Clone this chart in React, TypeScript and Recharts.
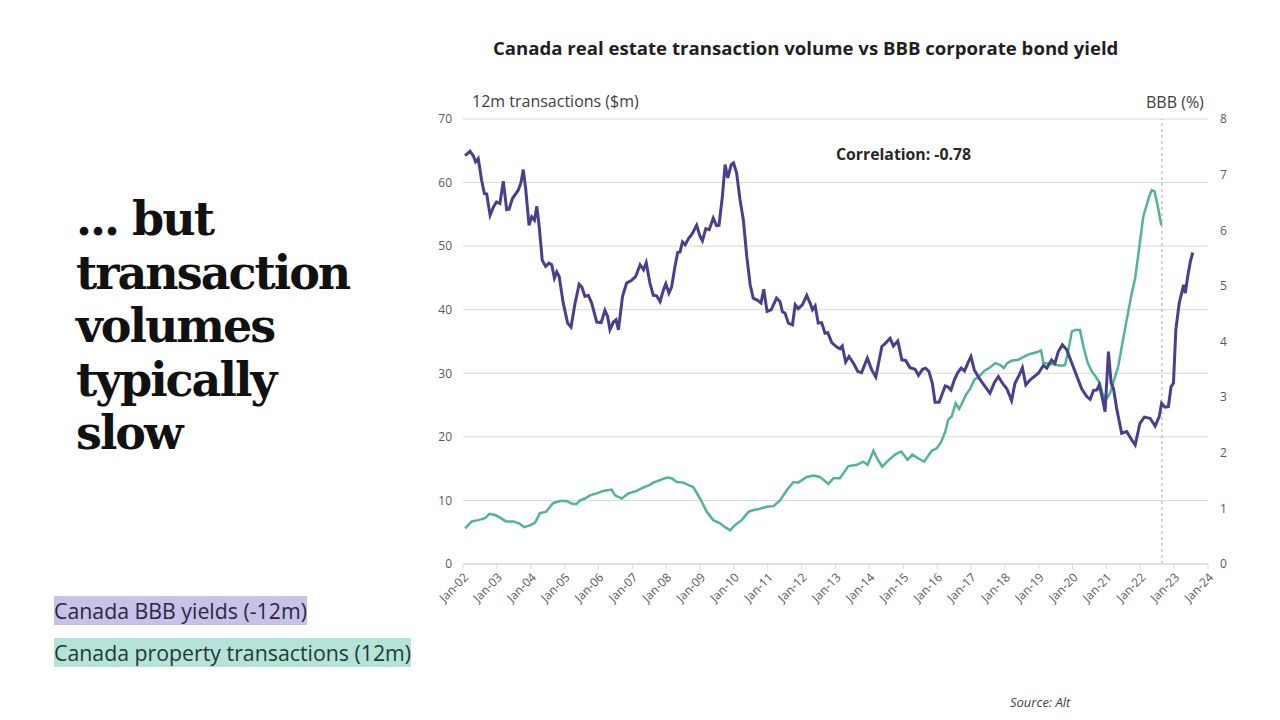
import React from 'react';
import { LineChart, Line, XAxis, YAxis, CartesianGrid, ReferenceLine } from 'recharts';

// Canada BBB corporate bond yield, shifted forward 12 months (%), right axis
const bbbDates = [
  2002.06, 2002.21, 2002.31, 2002.37, 2002.45, 2002.55, 2002.63, 2002.70, 2002.80, 2002.90,
  2002.99, 2003.09, 2003.19, 2003.29, 2003.36, 2003.46, 2003.63, 2003.71, 2003.78, 2003.85,
  2003.95, 2004.03, 2004.11, 2004.18, 2004.25, 2004.34, 2004.44, 2004.54, 2004.62, 2004.70,
  2004.77, 2004.84, 2004.96, 2005.09, 2005.19, 2005.31, 2005.43, 2005.51, 2005.60, 2005.70,
  2005.80, 2005.95, 2006.08, 2006.19, 2006.27, 2006.34, 2006.44, 2006.52, 2006.59, 2006.71,
  2006.83, 2006.98, 2007.10, 2007.23, 2007.33, 2007.41,
  2007.52, 2007.62, 2007.72, 2007.82, 2007.92, 2007.99, 2008.08, 2008.16, 2008.26, 2008.34,
  2008.41, 2008.48, 2008.56, 2008.66, 2008.77, 2008.90, 2009.00, 2009.07, 2009.17, 2009.27,
  2009.39, 2009.49, 2009.56, 2009.66, 2009.74, 2009.82, 2009.92, 2009.99, 2010.08, 2010.18,
  2010.28, 2010.38, 2010.48, 2010.57, 2010.70, 2010.80, 2010.88, 2010.98, 2011.10, 2011.26,
  2011.36, 2011.43, 2011.51, 2011.61, 2011.73, 2011.81, 2011.90, 2012.02, 2012.15, 2012.25,
  2012.32, 2012.40, 2012.49, 2012.59, 2012.69, 2012.77, 2012.89, 2013.04,
  2013.13, 2013.20, 2013.30, 2013.40, 2013.53, 2013.66, 2013.77, 2013.94, 2014.07, 2014.19,
  2014.37, 2014.48, 2014.61, 2014.71, 2014.84, 2014.96, 2015.07, 2015.20, 2015.35, 2015.45,
  2015.57, 2015.66, 2015.76, 2015.86, 2015.94, 2016.06, 2016.16, 2016.24, 2016.33, 2016.41,
  2016.51, 2016.61, 2016.71, 2016.81, 2016.92, 2017.00, 2017.10, 2017.24, 2017.42, 2017.56,
  2017.69, 2017.81, 2017.93, 2018.06, 2018.20, 2018.30, 2018.42, 2018.52, 2018.62, 2018.75,
  2018.99, 2019.14, 2019.24, 2019.38, 2019.48, 2019.58, 2019.70, 2019.83, 2019.98, 2020.13,
  2020.27, 2020.42, 2020.52, 2020.62, 2020.72, 2020.79, 2020.87, 2020.96, 2021.06, 2021.14,
  2021.21, 2021.31, 2021.45, 2021.60, 2021.75, 2021.85, 2021.99, 2022.12, 2022.29, 2022.44,
  2022.56, 2022.63, 2022.73, 2022.83, 2022.91, 2022.98, 2023.05, 2023.15, 2023.28, 2023.33,
  2023.40, 2023.48, 2023.55,
];
const bbbYield = [
  7.34, 7.42, 7.33, 7.23, 7.29, 6.90, 6.66, 6.65, 6.27, 6.42,
  6.51, 6.48, 6.88, 6.37, 6.38, 6.57, 6.72, 6.85, 7.09, 6.75,
  6.09, 6.24, 6.18, 6.43, 6.07, 5.46, 5.35, 5.41, 5.38, 5.14,
  5.25, 5.17, 4.69, 4.33, 4.26, 4.69, 5.03, 4.98, 4.81, 4.83,
  4.69, 4.35, 4.34, 4.56, 4.45, 4.21, 4.35, 4.39, 4.21, 4.81,
  5.05, 5.10, 5.17, 5.38, 5.29, 5.42,
  5.05, 4.83, 4.82, 4.72, 4.93, 5.04, 4.87, 4.98, 5.35, 5.60,
  5.61, 5.79, 5.74, 5.85, 5.94, 6.09, 5.89, 5.81, 6.03, 6.01,
  6.22, 6.08, 6.09, 6.61, 7.18, 6.94, 7.18, 7.21, 7.03, 6.55,
  6.18, 5.53, 5.02, 4.78, 4.74, 4.69, 4.94, 4.54, 4.57, 4.78,
  4.72, 4.54, 4.51, 4.33, 4.30, 4.66, 4.59, 4.66, 4.83, 4.69,
  4.57, 4.64, 4.33, 4.34, 4.15, 4.16, 3.98, 3.90,
  3.87, 3.92, 3.63, 3.73, 3.61, 3.46, 3.44, 3.70, 3.49, 3.36,
  3.91, 3.97, 4.06, 3.92, 4.01, 3.67, 3.66, 3.53, 3.50, 3.39,
  3.50, 3.52, 3.46, 3.25, 2.91, 2.91, 3.07, 3.20, 3.18, 3.13,
  3.31, 3.44, 3.52, 3.47, 3.63, 3.73, 3.49, 3.34, 3.19, 3.07,
  3.26, 3.37, 3.25, 3.15, 2.94, 3.25, 3.39, 3.53, 3.22, 3.31,
  3.43, 3.57, 3.52, 3.67, 3.61, 3.82, 3.94, 3.85, 3.61, 3.37,
  3.15, 3.01, 2.96, 3.12, 3.13, 3.22, 3.01, 2.74, 3.82, 3.25,
  3.15, 2.77, 2.35, 2.38, 2.23, 2.14, 2.53, 2.64, 2.62, 2.48,
  2.65, 2.89, 2.82, 2.83, 3.19, 3.25, 4.21, 4.69, 5.02, 4.87,
  5.17, 5.44, 5.60,
];

// Canada property transactions, rolling 12m, left axis
const txDates = [
  2002.06, 2002.26, 2002.45, 2002.65, 2002.78, 2002.95, 2003.09, 2003.27, 2003.49, 2003.66,
  2003.80, 2003.98, 2004.13, 2004.27, 2004.45, 2004.57, 2004.67, 2004.87, 2005.06, 2005.21,
  2005.34, 2005.46, 2005.60, 2005.75, 2005.95, 2006.14, 2006.39, 2006.49, 2006.69, 2006.88,
  2007.13, 2007.31, 2007.50, 2007.62, 2007.82, 2008.02, 2008.16, 2008.31, 2008.51, 2008.66,
  2008.80, 2009.00, 2009.20, 2009.39, 2009.59, 2009.74, 2009.89, 2010.03, 2010.23, 2010.43,
  2010.58, 2010.77, 2010.97, 2011.17, 2011.36, 2011.56, 2011.76, 2011.90, 2012.15, 2012.35,
  2012.54, 2012.79, 2012.94,
  2013.13, 2013.38, 2013.63, 2013.82, 2013.95, 2014.12, 2014.25, 2014.38, 2014.56, 2014.76,
  2014.94, 2015.13, 2015.27, 2015.45, 2015.62, 2015.84, 2015.99, 2016.12, 2016.24, 2016.33,
  2016.43, 2016.55, 2016.65, 2016.73, 2016.85, 2016.97, 2017.10, 2017.24, 2017.40, 2017.56,
  2017.72, 2017.87, 2017.97, 2018.07, 2018.21, 2018.39, 2018.56, 2018.72, 2018.94, 2019.07,
  2019.14, 2019.34, 2019.53, 2019.68, 2019.78, 2019.88, 2019.98, 2020.08, 2020.22, 2020.32,
  2020.45, 2020.57, 2020.68, 2020.81, 2020.88, 2020.98, 2021.11, 2021.21, 2021.35, 2021.47,
  2021.60, 2021.73, 2021.85, 2021.96, 2022.09, 2022.19, 2022.26, 2022.34, 2022.42, 2022.52,
  2022.62,
];
const txVolume = [
  5.6, 6.7, 6.9, 7.2, 7.9, 7.7, 7.3, 6.7, 6.7, 6.4,
  5.8, 6.1, 6.5, 8.0, 8.2, 9.0, 9.6, 9.9, 9.9, 9.5,
  9.4, 10.0, 10.3, 10.8, 11.1, 11.5, 11.7, 10.8, 10.3, 11.1,
  11.5, 12.0, 12.4, 12.8, 13.2, 13.6, 13.5, 12.9, 12.8, 12.4,
  12.1, 10.3, 8.2, 6.9, 6.4, 5.8, 5.3, 6.1, 6.9, 8.2,
  8.5, 8.7, 9.0, 9.1, 10.0, 11.6, 12.9, 12.8, 13.7, 13.9,
  13.7, 12.6, 13.5,
  13.5, 15.4, 15.6, 16.1, 15.6, 17.8, 16.4, 15.3, 16.3, 17.2,
  17.7, 16.4, 17.2, 16.6, 16.1, 17.8, 18.2, 19.2, 20.8, 22.7,
  23.2, 25.3, 24.4, 25.2, 26.6, 27.5, 29.0, 29.5, 30.4, 30.9,
  31.6, 31.3, 30.8, 31.6, 32.0, 32.1, 32.6, 33.0, 33.3, 33.6,
  31.6, 31.5, 31.3, 31.2, 31.3, 33.7, 36.6, 36.8, 36.8, 34.2,
  31.6, 30.3, 29.5, 28.4, 26.9, 25.8, 26.9, 28.7, 31.1, 34.7,
  38.4, 42.1, 45.0, 49.4, 54.7, 56.5, 57.8, 58.8, 58.6, 56.2,
  53.3,
];

const yearTicks = [
  2002, 2003, 2004, 2005, 2006, 2007, 2008, 2009, 2010, 2011, 2012,
  2013, 2014, 2015, 2016, 2017, 2018, 2019, 2020, 2021, 2022, 2023, 2024,
];
const leftTicks = [0, 10, 20, 30, 40, 50, 60, 70];
const rightTicks = [0, 1, 2, 3, 4, 5, 6, 7, 8];
const cutoffDate = 2022.64;

const formatYear = (y: number) => `Jan-${String(y).slice(2)}`;

export default function App() {
  const bbbData = bbbDates.map((x, i) => ({ x, y: bbbYield[i] }));
  const txData = txDates.map((x, i) => ({ x, y: txVolume[i] }));

  const chartFont = "'Open Sans', 'Noto Sans', sans-serif";
  const tickStyle = { fill: '#595959', fontSize: 12, fontFamily: chartFont };

  return (
    <div
      style={{
        position: 'absolute',
        left: 0,
        top: 0,
        width: 1280,
        height: 720,
        background: '#fff',
        overflow: 'hidden',
        fontFamily: chartFont,
      }}
    >
      <div style={{ position: 'absolute', left: 0, top: 0 }}>
        <LineChart width={1280} height={720} margin={{ top: 119, right: 32, bottom: 106, left: 403 }}>
          <CartesianGrid yAxisId="left" vertical={false} stroke="#d9d9d9" />
          <XAxis
            dataKey="x"
            type="number"
            domain={[2002, 2024]}
            ticks={yearTicks}
            interval={0}
            tickFormatter={formatYear}
            angle={-45}
            textAnchor="end"
            height={50}
            tickSize={5}
            tickMargin={3}
            tick={{ ...tickStyle, fontSize: 12 }}
            tickLine={{ stroke: '#d9d9d9' }}
            axisLine={{ stroke: '#d9d9d9' }}
          />
          <YAxis
            yAxisId="left"
            domain={[0, 70]}
            ticks={leftTicks}
            width={60}
            axisLine={false}
            tickLine={false}
            tickMargin={5}
            tick={tickStyle}
          />
          <YAxis
            yAxisId="right"
            orientation="right"
            domain={[0, 8]}
            ticks={rightTicks}
            width={40}
            axisLine={false}
            tickLine={false}
            tickMargin={6}
            tick={tickStyle}
          />
          <ReferenceLine yAxisId="left" x={cutoffDate} stroke="#a6a6a6" strokeDasharray="3 3" />
          <Line
            yAxisId="left"
            data={txData}
            dataKey="y"
            type="linear"
            stroke="#4fb594"
            strokeWidth={2.5}
            dot={false}
            isAnimationActive={false}
          />
          <Line
            yAxisId="right"
            data={bbbData}
            dataKey="y"
            type="linear"
            stroke="#4a3f8e"
            strokeWidth={3}
            dot={false}
            isAnimationActive={false}
          />
        </LineChart>
      </div>

      <div style={{ position: 'absolute', left: 493, top: 37, fontSize: 18.6, fontWeight: 700, color: '#1f1f1f', whiteSpace: 'nowrap', lineHeight: '22px' }}>
        Canada real estate transaction volume vs BBB corporate bond yield
      </div>
      <div style={{ position: 'absolute', left: 472, top: 91, fontSize: 16, color: '#404040', lineHeight: '20px' }}>
        12m transactions ($m)
      </div>
      <div style={{ position: 'absolute', left: 1146, top: 92, fontSize: 16, color: '#404040', lineHeight: '20px' }}>
        BBB (%)
      </div>
      <div style={{ position: 'absolute', left: 836, top: 144, fontSize: 15.8, fontWeight: 700, color: '#262626', lineHeight: '20px' }}>
        Correlation: -0.78
      </div>

      <div
        style={{
          position: 'absolute',
          left: 76,
          top: 193,
          fontFamily: "'DejaVu Serif', serif",
          fontWeight: 700,
          fontSize: 46,
          lineHeight: '53.5px',
          color: '#111',
          letterSpacing: -2,
        }}
      >
        ... but
        <br />
        transaction
        <br />
        volumes
        <br />
        typically
        <br />
        slow
      </div>

      <div style={{ position: 'absolute', left: 54, top: 596, fontSize: 21.3, lineHeight: '29px', color: '#2b2844', background: '#c8c2e6', whiteSpace: 'nowrap' }}>
        Canada BBB yields (-12m)
      </div>
      <div style={{ position: 'absolute', left: 54, top: 638, fontSize: 21.3, lineHeight: '29px', color: '#1e3a34', background: '#b6e3d7', whiteSpace: 'nowrap' }}>
        Canada property transactions (12m)
      </div>

      <div style={{ position: 'absolute', left: 1010, top: 693, fontSize: 13, fontStyle: 'italic', color: '#404040', lineHeight: '18px' }}>
        Source: Alt
      </div>
    </div>
  );
}
